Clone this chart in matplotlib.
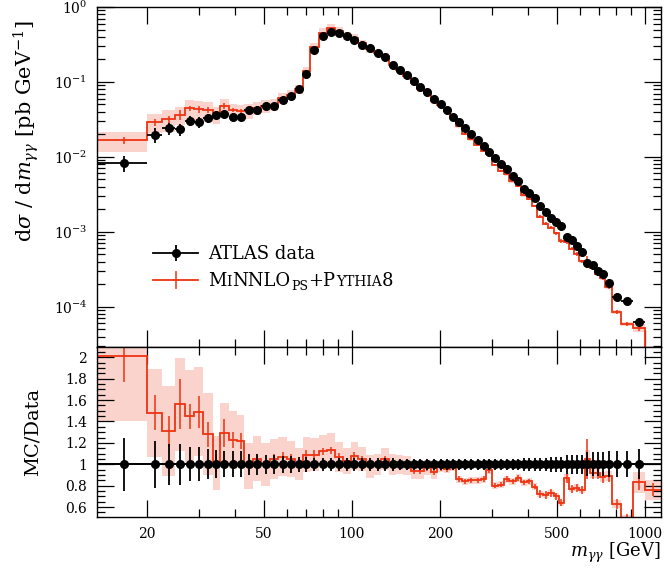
import numpy as np
import matplotlib
matplotlib.use("Agg")
import matplotlib.pyplot as plt
from matplotlib.ticker import FixedLocator, NullFormatter, LogLocator, MultipleLocator
from matplotlib.lines import Line2D

plt.rcParams['font.family'] = ['DejaVu Serif']
plt.rcParams['mathtext.fontset'] = 'dejavuserif'

# bin edges of the m_yy distribution [GeV]
data_edges = [13.5, 20, 22.5, 25, 27, 29, 31, 33.5, 35.5, 38, 40.5, 43, 46, 49, 52.5, 56,
              60, 64, 68, 72, 77, 82, 87.5, 93, 99, 105, 112, 119, 126, 134, 142, 150,
              159, 167, 176, 186, 196, 206, 216, 226, 238, 250, 262, 275, 288, 301, 315,
              330, 345, 362, 378, 395, 412, 430, 448, 468, 488, 508, 530, 551, 573, 597,
              624, 650, 676, 703, 732, 772, 830, 910, 1000]
mc_last_edge = 1135  # MC histogram has one more bin than the data

# ATLAS data, dsigma/dm [pb/GeV]
data_xsec = [0.0083, 0.0196, 0.0241, 0.0234, 0.0305, 0.0290, 0.0328, 0.0363, 0.0374, 0.0340,
             0.0340, 0.0423, 0.0428, 0.0479, 0.0474, 0.0575, 0.0645, 0.0800, 0.128, 0.265,
             0.405, 0.458, 0.446, 0.405, 0.358, 0.315, 0.281, 0.246, 0.213, 0.169,
             0.1445, 0.122, 0.102, 0.0858, 0.0730, 0.0593, 0.0500, 0.0423, 0.0340, 0.0296,
             0.0241, 0.0201, 0.0169, 0.0139, 0.0116, 0.0097, 0.0081, 0.0068, 0.0056, 0.0047,
             0.0037, 0.0033, 0.0028, 0.00222, 0.00181, 0.00155, 0.00137, 0.00118, 0.00084, 0.00077,
             0.00065, 0.00053, 0.00038, 0.00036, 0.00030, 0.000275, 0.000207, 0.000135, 0.000118, 0.0000625]
# relative data uncertainty
data_relerr = [0.25, 0.22, 0.19, 0.19, 0.16, 0.16, 0.14, 0.13, 0.12, 0.12,
               0.12, 0.10, 0.10, 0.09, 0.09, 0.08, 0.08, 0.07, 0.07, 0.06,
               0.06, 0.06, 0.06, 0.06, 0.06, 0.06, 0.06, 0.06, 0.06, 0.06,
               0.05, 0.05, 0.05, 0.05, 0.05, 0.05, 0.05, 0.05, 0.05, 0.05,
               0.05, 0.05, 0.05, 0.05, 0.05, 0.05, 0.05, 0.05, 0.05, 0.05,
               0.06, 0.06, 0.06, 0.06, 0.06, 0.07, 0.07, 0.07, 0.09, 0.09,
               0.09, 0.09, 0.11, 0.11, 0.11, 0.11, 0.12, 0.12, 0.12, 0.14]

# MiNNLO_PS+Pythia8 / data
mc_ratio = [2.01, 1.48, 1.31, 1.56, 1.45, 1.49, 1.28, 1.01, 1.29, 1.23,
            1.22, 0.98, 1.05, 1.00, 1.05, 1.07, 1.05, 1.00, 1.09, 1.09,
            1.12, 1.13, 1.07, 1.03, 1.08, 1.05, 0.98, 1.00, 1.05, 1.00,
            1.00, 0.99, 0.94, 0.94, 0.97, 0.93, 0.97, 0.96, 0.98, 0.86,
            0.84, 0.85, 0.85, 0.86, 0.95, 0.80, 0.81, 0.86, 0.84, 0.87,
            0.83, 0.84, 0.79, 0.72, 0.71, 0.73, 0.70, 0.64, 0.87, 0.77,
            0.78, 0.76, 1.05, 0.92, 0.92, 0.88, 0.89, 0.63, 0.50, 0.83,
            0.76]
# MC stat. error (relative)
mc_stat = [0.12, 0.11, 0.11, 0.15, 0.08, 0.10, 0.09, 0.08, 0.10, 0.06,
           0.06, 0.04, 0.04, 0.04, 0.04, 0.04, 0.04, 0.04, 0.04, 0.04,
           0.03, 0.03, 0.03, 0.03, 0.03, 0.03, 0.03, 0.03, 0.03, 0.03,
           0.03, 0.03, 0.03, 0.03, 0.03, 0.03, 0.03, 0.03, 0.03, 0.03,
           0.03, 0.03, 0.03, 0.03, 0.03, 0.03, 0.03, 0.03, 0.03, 0.03,
           0.03, 0.03, 0.03, 0.05, 0.05, 0.05, 0.05, 0.05, 0.05, 0.05,
           0.05, 0.05, 0.18, 0.06, 0.06, 0.06, 0.06, 0.07, 0.07, 0.08,
           0.08]
# MC scale-variation band (relative)
mc_band = [0.30, 0.28, 0.32, 0.28, 0.30, 0.28, 0.30, 0.25, 0.22, 0.22,
           0.20, 0.22, 0.20, 0.20, 0.18, 0.17, 0.16, 0.15, 0.15, 0.14,
           0.14, 0.14, 0.13, 0.12, 0.12, 0.11, 0.11, 0.10, 0.10, 0.10,
           0.09, 0.09, 0.08, 0.08, 0.07, 0.07, 0.04, 0.04, 0.04, 0.04,
           0.04, 0.04, 0.04, 0.04, 0.04, 0.04, 0.04, 0.04, 0.04, 0.04,
           0.04, 0.04, 0.04, 0.04, 0.04, 0.04, 0.04, 0.04, 0.04, 0.04,
           0.04, 0.04, 0.08, 0.05, 0.05, 0.05, 0.05, 0.06, 0.06, 0.12,
           0.12]

RED = '#EE3311'
BAND = '#F9C6BC'

edges = np.array(data_edges)
lo, hi = edges[:-1], edges[1:]
xc = 0.5 * (lo + hi)
dvals = np.array(data_xsec)
derr = np.array(data_relerr)

mc_edges = np.append(edges, mc_last_edge)
mclo, mchi = mc_edges[:-1], mc_edges[1:]
mcc = 0.5 * (mclo + mchi)
ratio = np.array(mc_ratio)
stat = np.array(mc_stat)
band = np.array(mc_band)
# MC cross section; last MC bin is below the plotted range
mc = np.append(ratio[:-1] * dvals, 1e-6)

W, H = 664, 569
fig = plt.figure(figsize=(W / 100, H / 100), dpi=100)
L, R = 97, 661
ax = fig.add_axes([L / W, 1 - 347 / H, (R - L) / W, (347 - 7) / H])
axr = fig.add_axes([L / W, 1 - 517 / H, (R - L) / W, (517 - 347) / H], sharex=ax)

# --- main panel
ax.stairs(mc * (1 + band), mc_edges, baseline=mc * (1 - band), fill=True,
          color=BAND, alpha=0.75, lw=0, zorder=1)
ax.stairs(mc, mc_edges, baseline=None, color=RED, lw=1.3, zorder=2)
ax.errorbar(mcc, mc, yerr=mc * stat, fmt='none', ecolor=RED, elinewidth=1.1, zorder=2)
ax.errorbar(xc, dvals, xerr=[xc - lo, hi - xc], yerr=dvals * derr, fmt='o', color='black',
            ms=5.5, elinewidth=1.3, capsize=0, zorder=3)

ax.set_xscale('log')
ax.set_yscale('log')
ax.set_xlim(13.5, 1135)
ax.set_ylim(2.9e-5, 1.0)
ax.yaxis.set_major_locator(LogLocator(base=10, numticks=10))
ax.yaxis.set_minor_locator(LogLocator(base=10, subs=np.arange(2, 10), numticks=20))
ax.yaxis.set_minor_formatter(NullFormatter())
ax.set_ylabel(r'$\mathrm{d}\sigma\ /\ \mathrm{d}m_{\gamma\gamma}$ [pb GeV$^{-1}$]',
              fontsize=15, loc='top')
ax.yaxis.set_label_coords(-0.10, 0.962)

# legend
h_data = (Line2D([], [], color='black', lw=1.3),
          Line2D([], [], color='black', marker='|', ms=11, mew=1.3, ls='none'),
          Line2D([], [], color='black', marker='o', ms=5.5, ls='none'))
h_mc = (Line2D([], [], color=RED, lw=1.3),
        Line2D([], [], color=RED, marker='|', ms=13, mew=1.1, ls='none'))
leg = ax.legend([h_data, h_mc], ['ATLAS data', 'M'], loc='upper left',
                bbox_to_anchor=((153 - L) / (R - L), 1 - (245 - 7) / 340),
                frameon=False, fontsize=13, handlelength=2.5, handletextpad=0.55,
                borderpad=0, borderaxespad=0, labelspacing=0.5)

# --- ratio panel
axr.stairs(ratio * (1 + band), mc_edges, baseline=ratio * (1 - band), fill=True,
           color=BAND, alpha=0.75, lw=0, zorder=1)
axr.stairs(ratio, mc_edges, baseline=None, color=RED, lw=1.3, zorder=2)
axr.errorbar(mcc, ratio, yerr=ratio * stat, fmt='none', ecolor=RED, elinewidth=1.1, zorder=2)
axr.axhline(1.0, color='black', lw=1.3, zorder=3)
axr.errorbar(xc, np.ones_like(xc), xerr=[xc - lo, hi - xc], yerr=derr, fmt='o',
             color='black', ms=5.5, elinewidth=1.3, capsize=0, zorder=3)
axr.set_ylim(0.507, 2.096)
axr.yaxis.set_major_locator(FixedLocator([0.6, 0.8, 1.0, 1.2, 1.4, 1.6, 1.8, 2.0]))
axr.set_yticklabels(['0.6', '0.8', '1', '1.2', '1.4', '1.6', '1.8', '2'])
axr.yaxis.set_minor_locator(MultipleLocator(0.05))
axr.set_ylabel('MC/Data', fontsize=14)
axr.yaxis.set_label_coords(-0.098, 0.5)

xmaj = [20, 50, 100, 200, 500, 1000]
xmin = [30, 40, 60, 70, 80, 90, 300, 400, 600, 700, 800, 900]
axr.xaxis.set_major_locator(FixedLocator(xmaj))
axr.xaxis.set_minor_locator(FixedLocator(xmin))
axr.set_xticklabels([str(v) for v in xmaj])
axr.xaxis.set_minor_formatter(NullFormatter())
axr.set_xlabel(r'$m_{\gamma\gamma}$ [GeV]', fontsize=13, loc='right')
axr.xaxis.set_label_coords(1.0, -0.14)
plt.setp(ax.get_xticklabels(), visible=False)

for a in (ax, axr):
    a.tick_params(which='both', direction='in', top=True, right=True, labelsize=10, width=0.9)
    a.tick_params(which='major', length=12, pad=7)
    a.tick_params(which='minor', length=5.5)
    for sp in a.spines.values():
        sp.set_linewidth(1.0)

# small-caps style label for the MC legend entry
fig.canvas.draw()
renderer = fig.canvas.get_renderer()
t1 = leg.get_texts()[1]
ext = t1.get_window_extent(renderer)
_, _, lp_d = renderer.get_text_width_height_descent('lp', t1.get_fontproperties(), ismath=False)
xpos = ext.x1
base = ext.y0 + lp_d
pieces = [('I', 10, 0), ('NNLO', 13, 0), ('PS', 9, -3.5), ('+P', 13, 0), ('YTHIA', 10, 0), ('8', 13, 0)]
for s, size, dy in pieces:
    t = fig.text(xpos / W, (base + dy) / H, s, fontsize=size, ha='left', va='baseline')
    xpos += t.get_window_extent(renderer).width + 0.5

fig.savefig('out.png', dpi=100)
